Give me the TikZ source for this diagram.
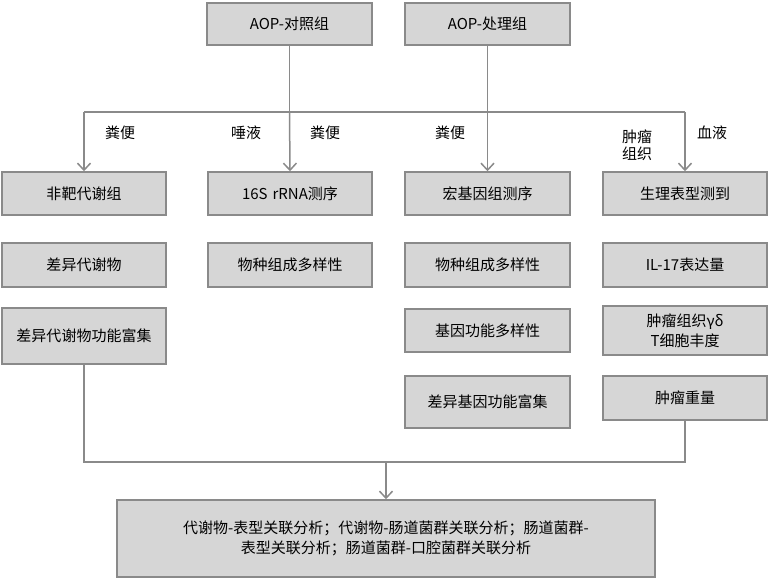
\documentclass[tikz,border=0pt]{standalone}
\usepackage{fontspec}
\setmainfont{Noto Sans CJK SC}
\usetikzlibrary{arrows.meta}
\definecolor{bfill}{HTML}{D6D6D6}
\definecolor{bline}{HTML}{8A8A8A}
\begin{document}
\begin{tikzpicture}[x=1pt,y=-1pt,
  bx/.style={draw=bline,fill=bfill,line width=1.5pt,inner sep=0pt,align=center,font=\fontsize{15}{20}\selectfont},
  ln/.style={draw=bline,line width=1.5pt},
  ar/.style={ln,-{Straight Barb[length=7pt,width=13pt]}},
  lb/.style={font=\fontsize{15}{20}\selectfont,align=center}]
\useasboundingbox (0,0) rectangle (770,579);
\newcommand{\bxat}[6]{\node[bx,minimum width=#3-#1,minimum height=#4-#2,text width=#3-#1-14] (#5) at ({(#1+#3)/2},{(#2+#4)/2}) {#6};}
\bxat{207}{3}{372}{45}{t1}{AOP-对照组}
\bxat{405}{3}{570}{45}{t2}{AOP-处理组}
\bxat{2}{172}{166}{215}{a1}{非靶代谢组}
\bxat{208}{172}{372}{215}{b1}{16S rRNA测序}
\bxat{405}{172}{570}{215}{c1}{宏基因组测序}
\bxat{603}{172}{767}{215}{d1}{生理表型测到}
\bxat{2}{243}{166}{287}{a2}{差异代谢物}
\bxat{208}{243}{372}{287}{b2}{物种组成多样性}
\bxat{405}{243}{570}{287}{c2}{物种组成多样性}
\bxat{603}{243}{767}{287}{d2}{IL-17表达量}
\bxat{2}{308}{166}{364}{a3}{差异代谢物功能富集}
\bxat{405}{309}{570}{352}{c3}{基因功能多样性}
\bxat{603}{306}{767}{355}{d3}{肿瘤组织γδ T细胞丰度}
\bxat{405}{376}{570}{428}{c4}{差异基因功能富集}
\bxat{603}{376}{767}{420}{d4}{肿瘤重量}
\bxat{117}{500}{655}{577}{e}{代谢物-表型关联分析；代谢物-肠道菌群关联分析；肠道菌群-表型关联分析；肠道菌群-口腔菌群关联分析}
\coordinate (j1) at (t1.south |- 0,112);
\coordinate (j2) at (t2.south |- 0,112);
\coordinate (ja) at (a1.north |- 0,112);
\coordinate (jd) at (d1.north |- 0,112);
\draw[ln] (t1.south) -- (j1);
\draw[ln] (t2.south) -- (j2);
\draw[ln] (ja) -- (jd);
\draw[ar] (ja) -- (a1.north);
\draw[ar] (j1) -- (b1.north);
\draw[ar] (j2) -- (c1.north);
\draw[ar] (jd) -- (d1.north);
\node[lb] (l1) at (120,133) {粪便};
\node[lb] (l2) at (246,133) {唾液};
\node[lb] (l3) at (325,133) {粪便};
\node[lb] (l4) at (450,133) {粪便};
\node[lb] (l5) at (637,145) {肿瘤\\[-3pt]组织};
\node[lb] (l6) at (712,133) {血液};
\coordinate (ka) at (a3.south |- 0,462);
\coordinate (kd) at (d4.south |- 0,462);
\coordinate (ke) at (e.north |- 0,462);
\draw[ln] (a3.south) -- (ka) -- (kd) -- (d4.south);
\draw[ar] (ke) -- (e.north);
\end{tikzpicture}
\end{document}
